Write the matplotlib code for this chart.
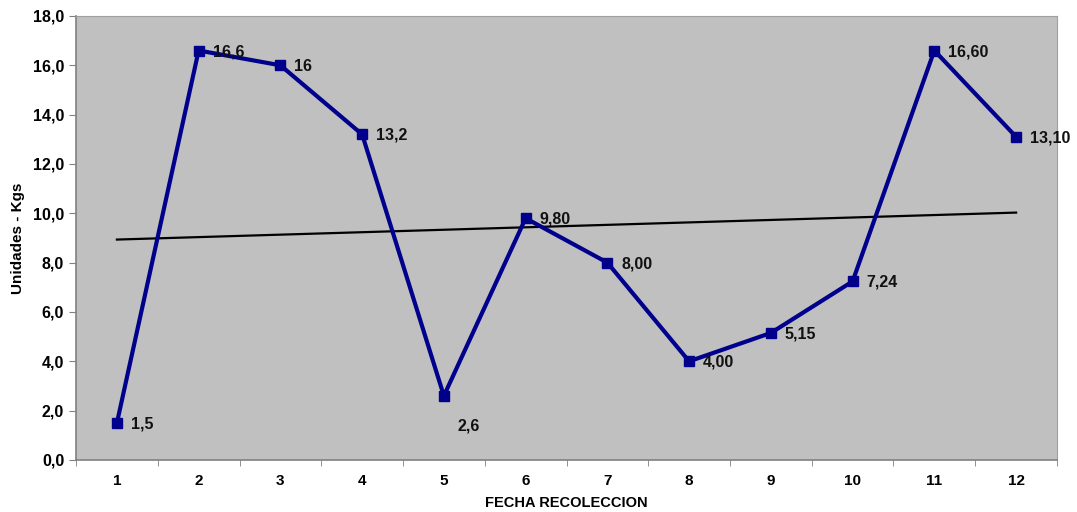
import numpy as np
import matplotlib.pyplot as plt
from matplotlib.ticker import FuncFormatter, FixedLocator

plt.rcParams['font.family'] = ['Liberation Sans', 'DejaVu Sans']
plt.rcParams['font.weight'] = 'bold'

## datos
fechas = [1, 2, 3, 4, 5, 6, 7, 8, 9, 10, 11, 12]
valores = [1.5, 16.6, 16.0, 13.2, 2.6, 9.8, 8.0, 4.0, 5.15, 7.24, 16.6, 13.1]
etiquetas = ["1,5", "16,6", "16", "13,2", "2,6", "9,80", "8,00", "4,00", "5,15", "7,24", "16,60", "13,10"]

x = np.array(fechas)
y = np.array(valores)

fig = plt.figure(figsize=(10.77, 5.12), dpi=100)
ax = fig.add_axes([0.0706, 0.1016, 0.9108, 0.8672])
ax.set_facecolor('#C0C0C0')

## tendencia lineal
m, b = np.polyfit(x, y, 1)
ax.plot([x[0], x[-1]], [m * x[0] + b, m * x[-1] + b], color='black', lw=1.6, zorder=2)

## serie
ax.plot(x, y, color='#00008C', lw=3, marker='s', ms=6.5, zorder=3)

for xi, yi, t in zip(x, y, etiquetas):
    dx, dy = 14, -1
    if t == "2,6":
        dy = -30
    ax.annotate(t, (xi, yi), xytext=(dx, dy), textcoords='offset pixels',
                ha='left', va='center', fontsize=11.5, fontweight='bold', color='#111111')

ax.set_xlim(0.5, 12.5)
ax.set_ylim(0, 18)
ax.set_yticks(np.arange(0, 18.1, 2))
ax.yaxis.set_major_formatter(FuncFormatter(lambda v, p: f"{v:.1f}".replace('.', ',')))
ax.set_xticks(fechas)
ax.xaxis.set_minor_locator(FixedLocator(np.arange(0.5, 12.6, 1)))
ax.tick_params(axis='x', which='major', length=0, pad=10, labelsize=11)
ax.tick_params(axis='x', which='minor', length=4, color='#808080')
ax.tick_params(axis='y', length=5, color='#808080', labelsize=11.5)

for s in ['left', 'bottom']:
    ax.spines[s].set_color('#808080')
    ax.spines[s].set_linewidth(1.2)
for s in ['top', 'right']:
    ax.spines[s].set_color('#A0A0A0')

ax.set_xlabel("FECHA RECOLECCION", fontsize=10.5, fontweight='bold', labelpad=6)
ax.set_ylabel("Unidades - Kgs", fontsize=11, fontweight='bold', labelpad=6)

plt.savefig("out.png", dpi=100)
